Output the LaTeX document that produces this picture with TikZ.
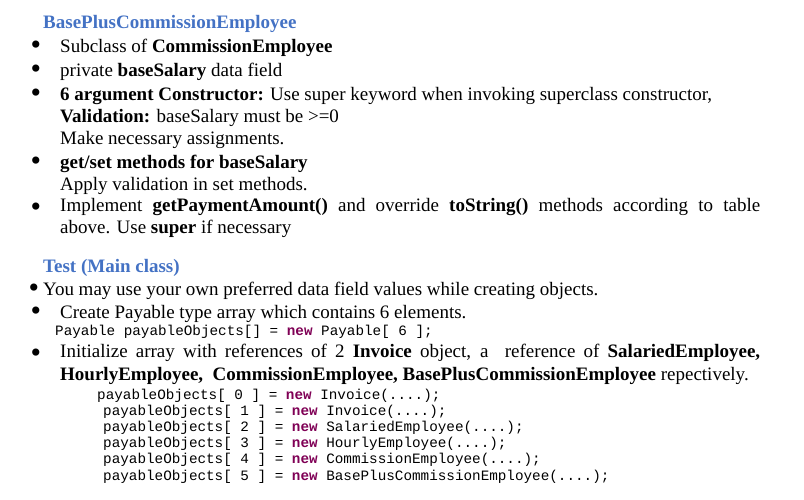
\documentclass[tikz,border=0pt]{standalone}
\usepackage{fontspec}
\setmainfont{Liberation Serif}
\setmonofont{Liberation Mono}
\definecolor{ttl}{RGB}{68,114,196}
\definecolor{kw}{RGB}{127,0,85}
\newcommand{\kwnew}{\textcolor{kw}{\textbf{new}}}
\begin{document}
\begin{tikzpicture}[x=1pt,y=-1pt,
  txt/.style={anchor=west,inner sep=0pt,font=\fontsize{19}{22}\selectfont},
  ttlsty/.style={txt,text=ttl,font=\fontsize{19}{22}\selectfont\bfseries},
  bul/.style={anchor=center,inner sep=0pt,font=\fontsize{30}{22}\selectfont},
  code/.style={anchor=west,inner sep=0pt,font=\fontsize{14.3}{16}\ttfamily},
  par/.style={anchor=north west,inner sep=0pt,font=\fontsize{19}{22.5}\selectfont,text width=700pt,align=justify}]
\useasboundingbox (0,0) rectangle (804,500);
\node[ttlsty] (t1) at (43,24) {BasePlusCommissionEmployee};
\node[bul] (b1) at (36,48) {•};
\node[txt] (l1) at (60,48) {Subclass of \textbf{CommissionEmployee}};
\node[bul] (b2) at (36,72) {•};
\node[txt] (l2) at (60,72) {private \textbf{baseSalary} data field};
\node[bul] (b3) at (36,96) {•};
\node[txt] (l3) at (60,96) {\textbf{6 argument Constructor:} Use super keyword when invoking superclass constructor,};
\node[txt] (l3b) at (60,118) {\textbf{Validation:} baseSalary must be >=0};
\node[txt] (l3c) at (60,140) {Make necessary assignments.};
\node[bul] (b4) at (36,164) {•};
\node[txt] (l4) at (60,164) {\textbf{get/set methods for baseSalary}};
\node[txt] (l4b) at (60,186) {Apply validation in set methods.};
\node[bul] (b5) at (36,210) {•};
\node[par] (l5) at (60,198) {Implement \textbf{getPaymentAmount()} and override \textbf{toString()} methods according to table\linebreak above. Use \textbf{super} if necessary};
\node[ttlsty] (t2) at (43,268) {Test (Main class)};
\node[bul] (b6) at (34,291) {•};
\node[txt] (l6) at (43,291) {You may use your own preferred data field values while creating objects.};
\node[bul] (b7) at (36,314) {•};
\node[txt] (l7) at (60,314) {Create Payable type array which contains 6 elements.};
\node[code] (c0) at (55,332) {Payable payableObjects[] = \kwnew{} Payable[ 6 ];};
\node[bul] (b8) at (36,356) {•};
\node[par] (l8) at (60,344) {Initialize array with references of 2 \textbf{Invoice} object, a\ \ reference of \textbf{SalariedEmployee,}\linebreak \textbf{HourlyEmployee,\ \ CommissionEmployee, BasePlusCommissionEmployee} repectively.};
\node[code] (c1) at (97,396) {payableObjects[ 0 ] = \kwnew{} Invoice(....);};
\node[code] (c2) at (103,412) {payableObjects[ 1 ] = \kwnew{} Invoice(....);};
\node[code] (c3) at (103,428) {payableObjects[ 2 ] = \kwnew{} SalariedEmployee(....);};
\node[code] (c4) at (103,444) {payableObjects[ 3 ] = \kwnew{} HourlyEmployee(....);};
\node[code] (c5) at (103,460) {payableObjects[ 4 ] = \kwnew{} CommissionEmployee(....);};
\node[code] (c6) at (103,477) {payableObjects[ 5 ] = \kwnew{} BasePlusCommissionEmployee(....);};
\end{tikzpicture}
\end{document}
